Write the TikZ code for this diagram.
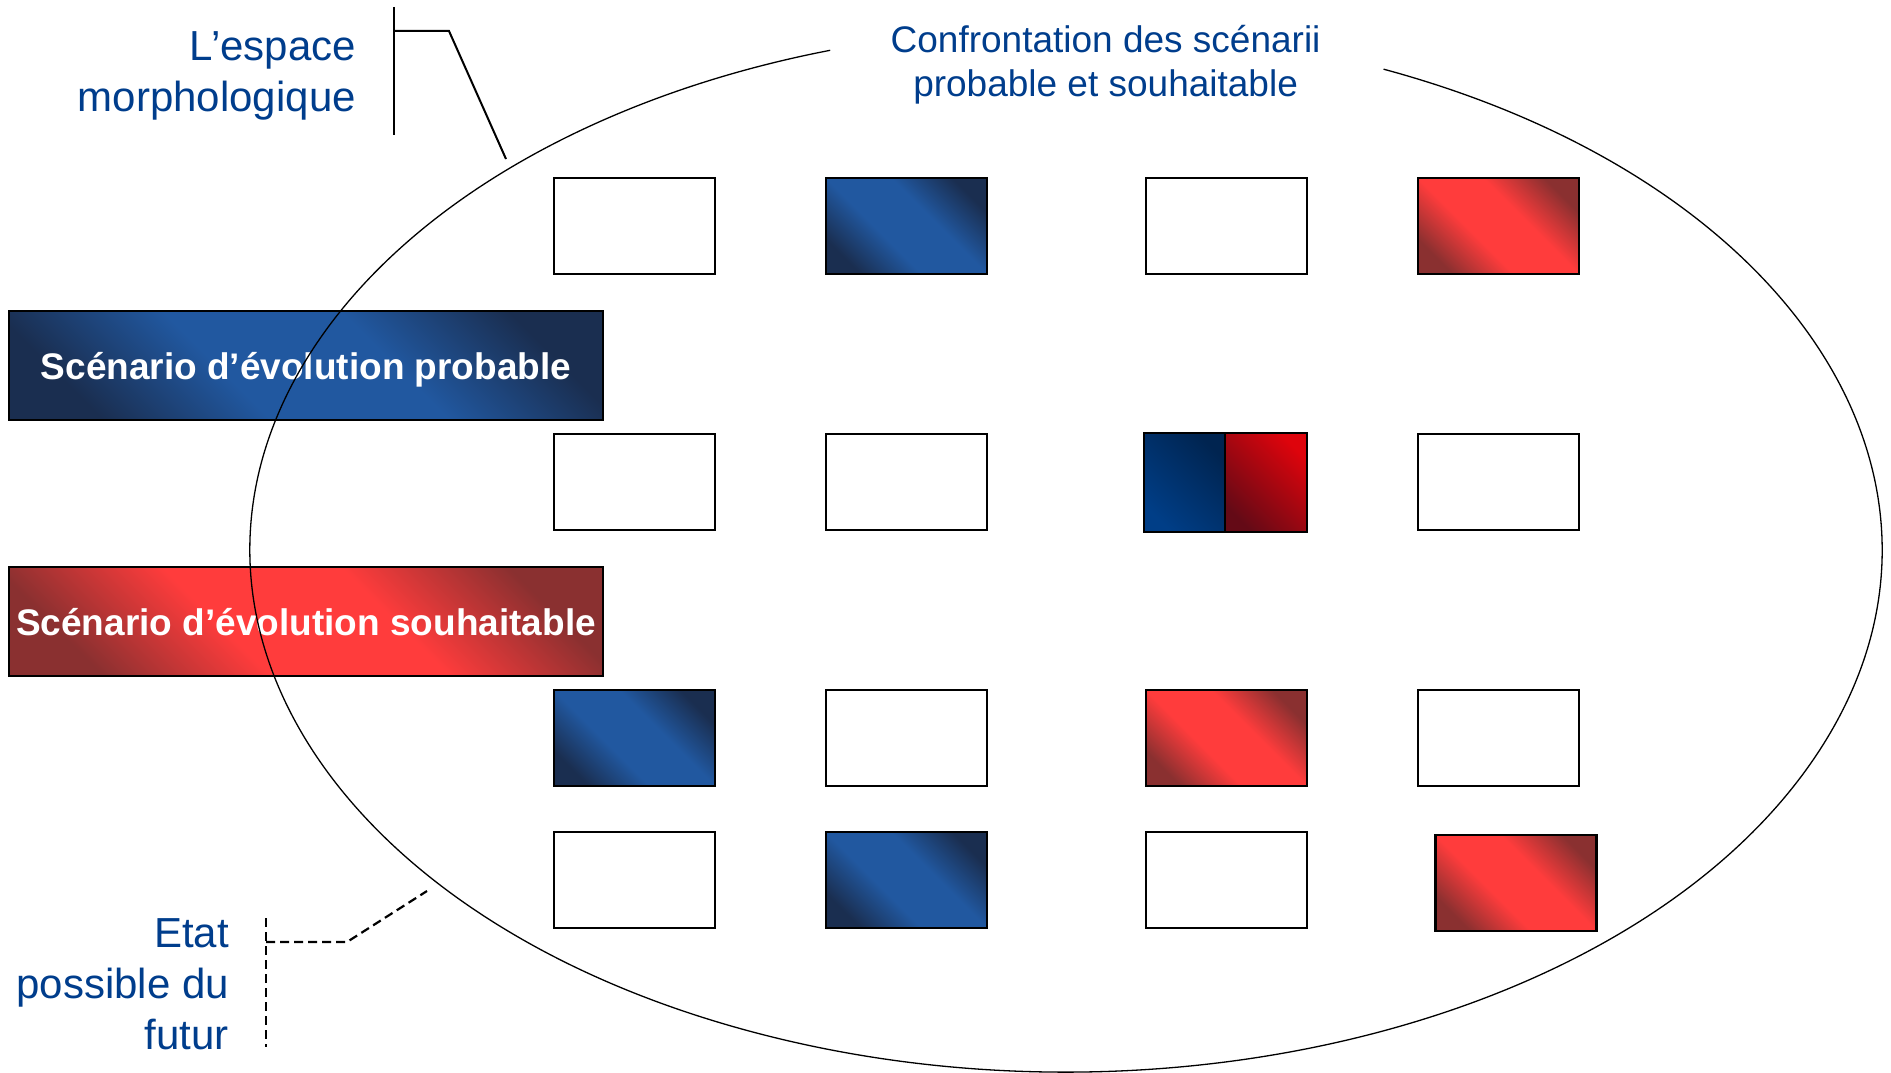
\documentclass[tikz,border=0pt]{standalone}
\usepackage{fontspec}
\setmainfont{Liberation Sans}
\usetikzlibrary{calc}

\definecolor{labelblue}{RGB}{0,61,140}
\definecolor{bluelight}{RGB}{33,88,160}
\definecolor{bluedark}{RGB}{26,46,80}
\definecolor{redlight}{RGB}{255,60,60}
\definecolor{reddark}{RGB}{138,48,48}
\definecolor{mixblue}{RGB}{0,62,135}
\definecolor{mixbluedark}{RGB}{0,36,80}
\definecolor{mixred}{RGB}{222,4,12}
\definecolor{mixreddark}{RGB}{100,10,22}

\pgfdeclarehorizontalshading{bluesheen}{100bp}{color(0bp)=(bluedark); color(24bp)=(bluedark); color(41bp)=(bluelight); color(59bp)=(bluelight); color(76bp)=(bluedark); color(100bp)=(bluedark)}
\pgfdeclarehorizontalshading{redsheen}{100bp}{color(0bp)=(reddark); color(24bp)=(reddark); color(41bp)=(redlight); color(59bp)=(redlight); color(76bp)=(reddark); color(100bp)=(reddark)}

\begin{document}
\begin{tikzpicture}
[x=1pt,y=-1pt,
 labeltext/.style={text=labelblue,font={\fontsize{42}{51}\selectfont},align=right,anchor=east,inner sep=0pt},
 titletext/.style={text=labelblue,font={\fontsize{37}{44}\selectfont},align=center,inner sep=0pt},
 emptycell/.style={draw,line width=2.6pt,fill=white,minimum width=161pt,minimum height=96pt,inner sep=0pt},
 bluecell/.style={emptycell,shade,shading=bluesheen,shading angle=45},
 redcell/.style={emptycell,shade,shading=redsheen,shading angle=45},
 banner/.style={draw,line width=2pt,minimum width=594pt,minimum height=109pt,inner sep=0pt,
   text height=27pt,text depth=0pt,
   text=white,font={\bfseries\fontsize{37}{44}\selectfont},shade,shading angle=45},
 leader/.style={line width=2pt},
 dashleader/.style={line width=2.2pt,dash pattern=on 9pt off 5pt}]

\useasboundingbox (0,0) rectangle (1891,1073);

% the two scenario banners
\node[banner,shading=bluesheen] (probable) at (306,365.5) {Scénario d’évolution probable};
\node[banner,shading=redsheen] (souhaitable) at (306,621.5) {Scénario d’évolution souhaitable};

% the states of the morphological space
\foreach \x/\y/\kind/\name in {634.5/226/emptycell/a1, 906.5/226/bluecell/a2, 1226.5/226/emptycell/a3, 1498.5/226/redcell/a4,
  634.5/482/emptycell/b1, 906.5/482/emptycell/b2, 1498.5/482/emptycell/b4,
  634.5/738/bluecell/c1, 906.5/738/emptycell/c2, 1226.5/738/redcell/c3, 1498.5/738/emptycell/c4,
  634.5/880/emptycell/d1, 906.5/880/bluecell/d2, 1226.5/880/emptycell/d3}
  \node[\kind] (\name) at (\x,\y) {};
\node[redcell] (d4) at (1516,883) {};

% the shared state
\node[emptycell,minimum width=81pt,minimum height=99pt,shade,bottom color=mixblue,top color=mixbluedark,shading angle=-45] (b3left) at (1184.5,482.5) {};
\node[emptycell,minimum width=82pt,minimum height=99pt,shade,bottom color=mixreddark,top color=mixred,shading angle=-45] (b3right) at (1266,482.5) {};

% the ellipse, open under the title
\coordinate (O) at (1066,550);
\draw[line width=1.3pt] (O) ++(292.9:816 and 522) arc[start angle=292.9,end angle=613.2,x radius=816,y radius=522];

% the labels
\node[titletext] (title) at (1105.6,65) {Confrontation des scénarii\\probable et souhaitable};
\node[labeltext] (espace) at (356,76) {L’espace\\morphologique};
\node[labeltext] (etat) at (229,984) {Etat\\possible du\\futur};

% the leaders
\coordinate (b1) at (394,7);
\coordinate (b2) at (394,135);
\coordinate (k1) at (394,31);
\coordinate (k2) at (449,31);
\coordinate (k3) at (506,159);
\draw[leader] (b1) -- (b2);
\draw[leader] (k1) -- (k2) -- (k3);

\coordinate (d1) at (266,918);
\coordinate (d2) at (266,1047);
\coordinate (e1) at (266,942);
\coordinate (e2) at (347,942);
\coordinate (e3) at (427,891);
\draw[dashleader] (d1) -- (d2);
\draw[dashleader] (e1) -- (e2) -- (e3);

%
\end{tikzpicture}
\end{document}
